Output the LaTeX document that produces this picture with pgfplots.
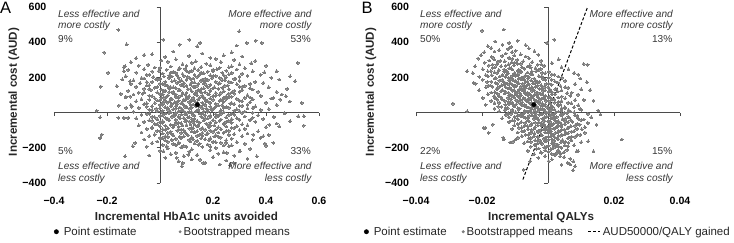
\documentclass[border=0pt]{standalone}
\usepackage{fontspec}
\setmainfont{Liberation Sans}
\usepackage{pgfplots}
\pgfplotsset{compat=1.18}
\definecolor{ptgray}{RGB}{124,124,124}
\definecolor{axgray}{RGB}{75,75,75}
\definecolor{txtgray}{RGB}{55,55,55}
\begin{document}
\begin{tikzpicture}
\useasboundingbox (0pt,0pt) rectangle (734pt,243pt);
\pgfplotsset{
 myax/.style={
  scale only axis, height=176pt,
  axis lines=middle, axis line style={axgray, line width=0.9pt, -},
  ymin=-400, ymax=600,
  ytick={-400,-200,200,400,600},
  yticklabels={−400,−200,200,400,600},
  tick style={axgray, line width=0.8pt},
  major tick length=3.5pt, tick align=outside,
  ticklabel style={font=\fontsize{10.6}{12}\selectfont\bfseries},
  xticklabel style={yshift=-77pt},
  clip=false,
  legend style={draw=none, fill=none, inner sep=0pt, legend columns=-1,
     font=\fontsize{11.5}{13}\selectfont, text=black!85},
 },
 ptest/.style={only marks, mark=*, mark size=2.2pt, black},
 boot/.style={only marks, mark=*, mark size=1.45pt, ptgray, mark options={draw=ptgray, fill=ptgray, line width=0pt}},
}
% ---------------- Panel A ----------------
\begin{axis}[myax, at={(54pt,60pt)}, anchor=south west, width=265pt,
  xmin=-0.4, xmax=0.6,
  xtick={-0.4,-0.2,0.2,0.4,0.6},
  xticklabels={−0.4,−0.2,0.2,0.4,0.6},
  yticklabel style={xshift=-106.6pt},
  xlabel={Incremental HbA1c units avoided},
  every axis x label/.style={at={(axis description cs:0.5,0)}, anchor=north, yshift=-26pt, font=\fontsize{11.6}{13}\selectfont\bfseries, text=black!85},
  ylabel={Incremental cost (AUD)},
  every axis y label/.style={at={(axis description cs:-0.151,0.517)}, rotate=90, anchor=center, font=\fontsize{11.6}{13}\selectfont\bfseries, text=black!85},
  legend style={at={(axis description cs:-0.0008,-0.277)}, anchor=west,
     /tikz/every even column/.append style={column sep=40pt}},
]
\addlegendimage{legend image code/.code={\fill[black] (0pt,0pt) circle (2.2pt); \path (5.2pt,0pt);}}
\addlegendentry{Point estimate}
\addlegendimage{legend image code/.code={\fill[ptgray] (0pt,0pt) circle (1.3pt);}}
\addlegendentry{Bootstrapped means}
\addplot[boot, forget plot] coordinates {
(0.05,347) (0.16,336) (0.27,342) (-0.03,331)
(-0.06,327) (0.02,316) (0.11,322) (0.19,311) (0.24,325) (0.31,319)
(-0.09,309) (0.005,296) (0.06,302) (0.135,291) (0.21,305) (0.28,299) (0.36,293)
(-0.11,286) (-0.045,272) (0.03,289) (0.085,275) (0.12,283) (0.175,278) (0.23,287) (0.30,274) (0.345,281)
(-0.08,267) (-0.02,256) (0.04,262) (0.075,251) (0.10,265) (0.155,259) (0.19,269) (0.225,254) (0.27,263) (0.32,252) (0.40,266)
(-0.12,243) (-0.06,247) (-0.005,236) (0.025,244) (0.05,231) (0.095,249) (0.12,237) (0.145,242) (0.18,233) (0.215,246) (0.25,238) (0.29,245) (0.35,234)
(-0.09,227) (-0.04,216) (0.01,222) (0.035,211) (0.06,225) (0.085,219) (0.11,229) (0.13,214) (0.165,223) (0.19,212) (0.235,226) (0.26,217) (0.31,221) (0.38,215)
(-0.13,207) (-0.07,196) (-0.025,202) (0.00,191) (0.045,205) (0.07,199) (0.09,209) (0.125,194) (0.14,203) (0.17,192) (0.20,206) (0.225,197) (0.25,201) (0.285,193) (0.33,208) (0.42,198)
(-0.10,184) (-0.05,173) (-0.015,189) (0.02,175) (0.055,183) (0.075,178) (0.10,187) (0.13,172) (0.155,181) (0.18,186) (0.21,176) (0.245,185) (0.27,171) (0.30,182) (0.36,174) (0.45,188)
(-0.11,163) (-0.075,167) (-0.04,156) (0.01,164) (0.03,151) (0.065,169) (0.08,157) (0.115,162) (0.14,153) (0.165,166) (0.19,158) (0.22,165) (0.255,154) (0.29,161) (0.32,152) (0.39,168)
(-0.09,147) (-0.06,136) (-0.02,142) (0.005,131) (0.04,145) (0.06,139) (0.09,149) (0.115,134) (0.13,143) (0.155,132) (0.18,146) (0.20,137) (0.235,141) (0.26,133) (0.30,148) (0.34,138) (0.41,144) (0.48,135)
(-0.12,124) (-0.08,113) (-0.035,129) (-0.01,115) (0.02,123) (0.05,118) (0.07,127) (0.10,112) (0.12,121) (0.145,126) (0.17,116) (0.19,125) (0.21,111) (0.24,122) (0.27,114) (0.31,128) (0.37,119) (0.44,117)
(-0.10,103) (-0.065,107) (-0.04,96) (0.01,104) (0.025,91) (0.05,109) (0.08,97) (0.095,102) (0.11,93) (0.135,106) (0.16,98) (0.18,105) (0.20,94) (0.225,101) (0.25,92) (0.28,108) (0.33,99) (0.38,95) (0.46,103)
(-0.13,87) (-0.07,76) (-0.02,82) (0.00,71) (0.015,85) (0.04,79) (0.06,89) (0.09,74) (0.105,83) (0.12,72) (0.15,86) (0.17,77) (0.19,81) (0.23,73) (0.26,88) (0.29,78) (0.32,84) (0.35,75) (0.42,80)
(-0.09,64) (-0.05,53) (-0.01,69) (0.01,55) (0.035,63) (0.055,58) (0.07,67) (0.085,52) (0.11,61) (0.13,66) (0.16,56) (0.18,65) (0.21,51) (0.24,62) (0.27,54) (0.30,68) (0.34,59) (0.40,57) (0.49,63)
(-0.11,43) (-0.06,47) (-0.03,36) (0.00,44) (0.02,31) (0.045,49) (0.06,37) (0.09,42) (0.10,33) (0.125,46) (0.15,38) (0.17,45) (0.19,34) (0.22,41) (0.25,32) (0.28,48) (0.31,39) (0.36,35) (0.44,43)
(-0.08,27) (-0.04,16) (-0.015,22) (0.01,11) (0.03,25) (0.05,19) (0.075,29) (0.085,14) (0.11,23) (0.14,12) (0.16,26) (0.18,17) (0.20,21) (0.23,13) (0.26,28) (0.29,18) (0.33,24) (0.38,15) (0.41,20)
(-0.10,4) (-0.05,-7) (-0.01,9) (0.02,-5) (0.04,3) (0.06,-2) (0.09,7) (0.10,-8) (0.12,1) (0.135,6) (0.15,-4) (0.18,5) (0.21,-9) (0.24,2) (0.27,-6) (0.30,8) (0.35,-1) (0.47,-3)
(-0.07,-13) (-0.03,-24) (0.00,-18) (0.02,-29) (0.05,-15) (0.07,-21) (0.08,-11) (0.11,-26) (0.13,-17) (0.16,-28) (0.17,-14) (0.19,-23) (0.22,-19) (0.25,-27) (0.28,-12) (0.32,-22) (0.37,-16) (0.43,-25)
(-0.09,-33) (-0.04,-44) (-0.01,-38) (0.01,-49) (0.03,-35) (0.06,-41) (0.09,-31) (0.10,-46) (0.12,-37) (0.14,-48) (0.17,-34) (0.20,-43) (0.23,-39) (0.26,-47) (0.29,-32) (0.34,-42) (0.39,-36)
(-0.06,-53) (-0.02,-64) (0.01,-58) (0.04,-69) (0.06,-55) (0.08,-61) (0.11,-51) (0.13,-66) (0.15,-57) (0.18,-68) (0.21,-54) (0.24,-63) (0.27,-59) (0.31,-67) (0.36,-52) (0.44,-62)
(-0.08,-73) (-0.03,-84) (0.00,-78) (0.03,-89) (0.05,-75) (0.07,-81) (0.10,-71) (0.12,-86) (0.14,-77) (0.16,-88) (0.19,-74) (0.22,-83) (0.25,-79) (0.28,-87) (0.33,-72) (0.40,-82)
(-0.05,-93) (-0.01,-104) (0.02,-98) (0.04,-109) (0.07,-95) (0.09,-101) (0.11,-91) (0.14,-106) (0.17,-97) (0.20,-108) (0.23,-94) (0.26,-103) (0.30,-99) (0.37,-107)
(-0.07,-113) (-0.02,-124) (0.01,-118) (0.05,-129) (0.08,-115) (0.10,-121) (0.13,-111) (0.15,-126) (0.18,-117) (0.21,-128) (0.24,-114) (0.28,-123) (0.33,-119) (0.41,-127)
(-0.04,-133) (0.00,-144) (0.03,-138) (0.06,-149) (0.09,-135) (0.12,-141) (0.16,-131) (0.19,-146) (0.22,-137) (0.27,-148) (0.31,-134) (0.38,-143)
(-0.06,-153) (-0.01,-164) (0.02,-158) (0.07,-169) (0.11,-155) (0.14,-161) (0.17,-151) (0.20,-166) (0.25,-157) (0.29,-168) (0.35,-154)
(-0.03,-173) (0.01,-184) (0.05,-178) (0.09,-189) (0.13,-175) (0.18,-181) (0.23,-171) (0.27,-186) (0.32,-177) (0.40,-188)
(-0.05,-193) (0.03,-204) (0.08,-198) (0.12,-209) (0.16,-195) (0.21,-201) (0.26,-191) (0.34,-206)
(0.00,-217) (0.06,-228) (0.11,-222) (0.19,-213) (0.24,-225) (0.30,-219)
(0.04,-236) (0.09,-247) (0.14,-241) (0.22,-233) (0.28,-245)
(0.02,-257) (0.12,-266) (0.20,-253) (0.33,-262)
(0.07,-276) (0.17,-285) (0.25,-272)
(-0.157,470) (-0.211,341) (-0.126,388) (-0.196,227) (-0.224,148) (-0.136,258) (-0.142,189) (-0.163,151) (-0.148,106) (-0.129,91) (-0.113,91) (-0.155,40) (-0.239,11) (-0.107,34) (-0.226,-27) (-0.22,-125) (-0.226,-144) (-0.132,-248) (-0.041,-244) (-0.103,-191) (-0.094,-172) (-0.157,-30) (-0.136,-30) (-0.120,-30) (-0.128,27) (-0.113,178) (-0.136,235) (-0.132,263)
(0.299,462) (0.111,415) (0.151,396) (0.141,377) (0.013,415) (0.075,386) (0.361,409) (0.384,396) (0.327,396) (0.289,381) (0.52,282) (0.44,235) (0.491,206) (0.51,178) (0.394,229) (0.535,55) (0.475,93) (0.428,84) (0.453,74) (0.543,-21) (0.522,-21) (0.543,-74) (0.491,-49) (0.45,-78) (0.413,-68) (0.39,-134) (0.352,-125) (0.428,-172) (0.396,-176) (0.365,-248) (0.302,-220) (0.252,-229) (0.277,-286) (0.264,-299) (0.226,-295) (0.151,-267) (0.163,-286) (0.086,-286) (0.082,-305) (0.063,-257) (0.107,-239) (0.013,-220) (0.025,-191)
(0.00,254) (0.07,246) (0.13,252) (0.20,243) (0.26,257)
(-0.03,233) (0.04,226) (0.10,237) (0.155,228) (0.20,234) (0.27,225)
(-0.05,214) (0.015,205) (0.065,212) (0.105,203) (0.15,216) (0.21,208) (0.24,213) (0.30,204)
(-0.06,194) (-0.01,186) (0.035,197) (0.08,183) (0.115,192) (0.16,188) (0.195,196) (0.235,184) (0.28,191)
(-0.03,174) (0.00,165) (0.045,177) (0.09,168) (0.12,173) (0.145,164) (0.17,178) (0.225,167) (0.26,175) (0.34,163)
(-0.05,154) (-0.01,146) (0.02,157) (0.05,143) (0.10,152) (0.125,148) (0.175,156) (0.205,144) (0.245,153) (0.31,147)
(-0.04,134) (0.015,125) (0.035,137) (0.075,128) (0.105,133) (0.14,124) (0.165,138) (0.19,127) (0.22,135) (0.28,123) (0.35,131)
(-0.06,114) (0.00,106) (0.035,117) (0.06,103) (0.085,112) (0.13,108) (0.155,116) (0.185,104) (0.23,113) (0.26,107) (0.30,118)
(-0.03,94) (0.005,85) (0.03,97) (0.07,88) (0.10,93) (0.125,84) (0.14,98) (0.165,87) (0.21,95) (0.24,83) (0.27,91) (0.34,86)
(-0.04,74) (0.02,66) (0.045,77) (0.065,63) (0.095,72) (0.12,68) (0.145,76) (0.175,64) (0.20,73) (0.225,67) (0.25,78) (0.31,65)
(-0.02,54) (0.01,45) (0.03,57) (0.065,48) (0.08,53) (0.115,44) (0.14,58) (0.165,47) (0.19,55) (0.235,43) (0.265,51) (0.33,46)
(-0.05,34) (0.00,26) (0.04,37) (0.06,23) (0.095,32) (0.12,28) (0.135,36) (0.175,24) (0.21,33) (0.24,27) (0.30,38) (0.35,25)
(-0.03,14) (0.005,5) (0.03,17) (0.07,8) (0.08,13) (0.11,4) (0.145,18) (0.165,7) (0.195,15) (0.225,3) (0.28,11) (0.32,6)
(-0.04,-6) (0.01,-14) (0.035,-3) (0.055,-17) (0.095,-8) (0.125,-12) (0.16,-4) (0.19,-16) (0.23,-7) (0.26,-13) (0.31,-2)
(-0.02,-26) (0.025,-35) (0.045,-23) (0.075,-32) (0.105,-27) (0.13,-36) (0.155,-22) (0.18,-33) (0.21,-25) (0.27,-37) (0.35,-29)
(-0.03,-46) (0.00,-54) (0.035,-43) (0.07,-57) (0.095,-48) (0.125,-52) (0.165,-44) (0.19,-56) (0.225,-47) (0.25,-53) (0.30,-42)
(-0.01,-66) (0.02,-75) (0.06,-63) (0.085,-72) (0.115,-67) (0.145,-76) (0.175,-62) (0.205,-73) (0.24,-65) (0.29,-77)
(-0.03,-86) (0.01,-94) (0.05,-83) (0.08,-97) (0.125,-88) (0.155,-92) (0.185,-84) (0.21,-96) (0.27,-87) (0.32,-93)
(0.00,-106) (0.03,-115) (0.065,-103) (0.095,-112) (0.12,-107) (0.16,-116) (0.19,-102) (0.22,-113) (0.25,-105)
(-0.02,-126) (0.02,-134) (0.045,-123) (0.075,-137) (0.105,-128) (0.14,-132) (0.175,-124) (0.205,-136) (0.26,-127)
(0.01,-146) (0.045,-155) (0.08,-143) (0.125,-152) (0.155,-147) (0.185,-156) (0.23,-142)
(0.03,-166) (0.07,-174) (0.115,-163) (0.15,-177) (0.21,-168) (0.25,-172)
(0.06,-186) (0.10,-195) (0.145,-183) (0.19,-192) (0.24,-187)
};
\addplot[ptest, forget plot] coordinates {(0.141,45)};
\end{axis}
% ---------------- Panel B ----------------
\begin{axis}[myax, at={(416pt,60pt)}, anchor=south west, width=264pt,
  xmin=-0.04, xmax=0.04,
  xtick={-0.04,-0.02,0.02,0.04},
  xticklabels={−0.04,−0.02,0.02,0.04},
  yticklabel style={xshift=-132pt},
  xlabel={Incremental QALYs},
  every axis x label/.style={at={(axis description cs:0.474,0)}, anchor=north, yshift=-26pt, font=\fontsize{11.6}{13}\selectfont\bfseries, text=black!85},
  ylabel={Incremental cost (AUD)},
  every axis y label/.style={at={(axis description cs:-0.1705,0.517)}, rotate=90, anchor=center, font=\fontsize{11.6}{13}\selectfont\bfseries, text=black!85},
  legend style={at={(axis description cs:-0.1977,-0.277)}, anchor=west,
     /tikz/every even column/.append style={column sep=13pt}},
]
\addlegendimage{legend image code/.code={\fill[black] (0pt,0pt) circle (2.2pt); \path (5.2pt,0pt);}}
\addlegendentry{Point estimate}
\addlegendimage{legend image code/.code={\fill[ptgray] (0pt,0pt) circle (1.3pt);}}
\addlegendentry{Bootstrapped means}
\addlegendimage{legend image code/.code={\draw[black, line width=1pt, dash pattern=on 3pt off 2pt] (0pt,0pt) -- (12pt,0pt);}}
\addlegendentry{AUD50000/QALY gained}
\addplot[boot, forget plot] coordinates {
(-0.016,404) (-0.0118,396) (-0.0092,409)
(-0.0182,377) (-0.0138,386) (-0.0112,373) (-0.0068,384)
(-0.0172,366) (-0.0148,355) (-0.0121,362) (-0.0098,351) (-0.0058,365)
(-0.0193,343) (-0.0162,347) (-0.0128,336) (-0.0109,344) (-0.0083,331) (-0.0041,349)
(-0.0203,327) (-0.0171,316) (-0.0139,322) (-0.0118,311) (-0.0102,325) (-0.0068,319) (-0.0029,329)
(-0.0212,307) (-0.0178,296) (-0.0163,302) (-0.0131,291) (-0.0108,305) (-0.0093,299) (-0.0058,309) (-0.0021,294) (0.0032,303)
(-0.0192,284) (-0.0168,273) (-0.0152,289) (-0.0119,275) (-0.0101,283) (-0.0082,278) (-0.0048,287) (-0.0031,272) (0.0012,281) (0.0108,276)
(-0.0221,263) (-0.0179,267) (-0.0161,256) (-0.0142,264) (-0.0118,251) (-0.0103,269) (-0.0079,257) (-0.0062,262) (-0.0038,253) (-0.0012,266) (0.0041,258)
(-0.0198,247) (-0.0173,236) (-0.0149,242) (-0.0132,231) (-0.0108,245) (-0.0091,239) (-0.0072,249) (-0.0049,234) (-0.0028,243) (0.0003,232) (0.0062,246)
(-0.0228,224) (-0.0189,213) (-0.0162,229) (-0.0138,215) (-0.0121,223) (-0.0099,218) (-0.0088,227) (-0.0068,212) (-0.0052,221) (-0.0018,226) (0.0012,216) (0.0079,225)
(-0.0208,203) (-0.0182,207) (-0.0158,196) (-0.0129,204) (-0.0112,191) (-0.0098,209) (-0.0081,197) (-0.0058,202) (-0.0042,193) (-0.0019,206) (0.0002,198) (0.0031,205) (0.0098,194)
(-0.0198,187) (-0.0172,176) (-0.0148,182) (-0.0131,171) (-0.0118,185) (-0.0099,179) (-0.0082,189) (-0.0068,174) (-0.0051,183) (-0.0032,172) (-0.0008,186) (0.0021,177) (0.0052,181) (0.0118,173)
(-0.0219,164) (-0.0181,153) (-0.0159,169) (-0.0141,155) (-0.0122,163) (-0.0108,158) (-0.0089,167) (-0.0071,152) (-0.0058,161) (-0.0039,166) (-0.0021,156) (0.0002,165) (0.0038,151) (0.0082,162)
(-0.0188,143) (-0.0169,147) (-0.0152,136) (-0.0128,144) (-0.0111,131) (-0.0101,149) (-0.0079,137) (-0.0069,142) (-0.0052,133) (-0.0038,146) (-0.0019,138) (0.0001,145) (0.0022,134) (0.0061,141) (0.0101,132)
(-0.0209,127) (-0.0161,116) (-0.0142,122) (-0.0119,111) (-0.0108,125) (-0.0091,119) (-0.0079,129) (-0.0062,114) (-0.0048,123) (-0.0031,112) (-0.0009,126) (0.0012,117) (0.0029,121) (0.0072,113) (0.0128,128)
(-0.0182,104) (-0.0148,93) (-0.0131,109) (-0.0109,95) (-0.0098,103) (-0.0082,98) (-0.0068,107) (-0.0049,92) (-0.0041,101) (-0.0022,106) (-0.0008,96) (0.0011,105) (0.0042,91) (0.0091,102)
(-0.0198,83) (-0.0161,87) (-0.0139,76) (-0.0121,84) (-0.0098,71) (-0.0088,89) (-0.0069,77) (-0.0058,82) (-0.0041,73) (-0.0029,86) (-0.0011,78) (0.0002,85) (0.0019,74) (0.0052,81) (0.0109,72)
(-0.0172,67) (-0.0148,56) (-0.0119,62) (-0.0108,51) (-0.0091,65) (-0.0078,59) (-0.0062,69) (-0.0049,54) (-0.0032,63) (-0.0018,52) (0.0002,66) (0.0021,57) (0.0032,61) (0.0071,53) (0.0138,68)
(-0.0189,44) (-0.0141,33) (-0.0118,49) (-0.0102,35) (-0.0079,43) (-0.0069,38) (-0.0052,47) (-0.0038,32) (-0.0021,41) (-0.0009,46) (0.0012,36) (0.0029,45) (0.0051,31) (0.0092,42)
(-0.0162,23) (-0.0128,27) (-0.0109,16) (-0.0091,24) (-0.0071,11) (-0.0058,29) (-0.0042,17) (-0.0029,22) (-0.0012,13) (0.0001,26) (0.0019,18) (0.0041,25) (0.0062,14) (0.0098,21) (0.0152,12)
(-0.0148,7) (-0.0121,-4) (-0.0098,2) (-0.0082,-9) (-0.0061,5) (-0.0049,-1) (-0.0031,9) (-0.0018,-6) (0.0002,3) (0.0011,-8) (0.0032,6) (0.0049,-3) (0.0079,1) (0.0121,-7)
(-0.0128,-13) (-0.0101,-24) (-0.0082,-18) (-0.0068,-29) (-0.0049,-15) (-0.0041,-21) (-0.0019,-11) (-0.0011,-26) (0.0012,-17) (0.0021,-28) (0.0042,-14) (0.0061,-23) (0.0088,-19) (0.0131,-27)
(-0.0139,-33) (-0.0108,-44) (-0.0091,-38) (-0.0058,-49) (-0.0042,-35) (-0.0029,-41) (-0.0011,-31) (0.0002,-46) (0.0019,-37) (0.0031,-48) (0.0052,-34) (0.0069,-43) (0.0109,-39)
(-0.0118,-53) (-0.0092,-64) (-0.0069,-58) (-0.0051,-69) (-0.0028,-55) (-0.0019,-61) (0.0001,-51) (0.0012,-66) (0.0028,-57) (0.0042,-68) (0.0061,-54) (0.0089,-63) (0.0121,-59)
(-0.0102,-73) (-0.0079,-84) (-0.0061,-78) (-0.0041,-89) (-0.0019,-75) (-0.0008,-81) (0.0011,-71) (0.0022,-86) (0.0041,-77) (0.0059,-88) (0.0082,-74) (0.0112,-83)
(-0.0108,-93) (-0.0072,-104) (-0.0049,-98) (-0.0031,-109) (-0.0012,-95) (0.0001,-101) (0.0019,-91) (0.0032,-106) (0.0049,-97) (0.0071,-108) (0.0102,-94)
(-0.0092,-113) (-0.0058,-124) (-0.0041,-118) (-0.0019,-129) (0.0002,-115) (0.0011,-121) (0.0029,-111) (0.0042,-126) (0.0061,-117) (0.0088,-128) (0.0112,-114)
(-0.0079,-133) (-0.0052,-144) (-0.0031,-138) (-0.0012,-149) (0.0009,-135) (0.0021,-141) (0.0039,-131) (0.0061,-146) (0.0082,-137)
(-0.0098,-153) (-0.0062,-164) (-0.0039,-158) (-0.0021,-169) (0.0001,-155) (0.0019,-161) (0.0031,-151) (0.0052,-166) (0.0071,-157) (0.0101,-168)
(-0.0072,-173) (-0.0041,-184) (-0.0019,-178) (0.0002,-189) (0.0012,-175) (0.0029,-181) (0.0051,-171) (0.0079,-186)
(-0.0052,-193) (-0.0028,-204) (-0.0011,-198) (0.0009,-209) (0.0022,-195) (0.0041,-201) (0.0061,-191)
(-0.0061,-217) (-0.0019,-228) (0.0002,-222) (0.0031,-213) (0.0049,-225) (0.0091,-219)
(-0.0042,-236) (-0.0009,-247) (0.0021,-241) (0.0039,-233)
(-0.0029,-257) (0.0012,-266) (0.0049,-253) (0.0068,-262)
(0.0002,-276) (0.0059,-285)
(0.0041,-296) (0.0082,-305)
(-0.020,466) (-0.0134,472) (-0.0003,396) (0.0019,415) (-0.0288,51) (-0.0245,235) (-0.0245,7) (-0.0195,-87) (-0.018,-115) (0.0224,-153) (0.0159,-11) (0.0138,-220) (0.006,-286) (0.0076,-328) (0.0037,-248) (0.0027,-229) (-0.0054,-277) (-0.0074,-324) (-0.0134,-153) (-0.016,84) (-0.0225,169) (0.012,273) (0.0092,216)
(-0.019,-85) (-0.0167,-68) (-0.0136,-142) (-0.0115,-170) (-0.0106,-165) (-0.0091,-142) (0.0147,-68) (0.0122,-163) (0.0087,-220) (0.0077,-277) (0.0067,-295)
(-0.0145,294) (-0.011,286) (-0.0075,292)
(-0.0155,273) (-0.0128,266) (-0.0092,277) (-0.0055,268) (-0.002,274)
(-0.0168,254) (-0.0133,245) (-0.0112,252) (-0.0088,243) (-0.0052,256) (-0.0022,248)
(-0.0182,234) (-0.0154,226) (-0.0126,237) (-0.0102,223) (-0.0081,232) (-0.0062,228) (-0.0035,236) (-0.0008,224)
(-0.0171,213) (-0.0146,205) (-0.0124,217) (-0.0108,208) (-0.0091,212) (-0.0072,204) (-0.0047,218) (-0.0028,207) (0.0019,215)
(-0.0162,194) (-0.0139,186) (-0.0119,197) (-0.0104,183) (-0.0089,192) (-0.0073,188) (-0.0061,196) (-0.0038,184) (-0.0015,193) (0.0011,187) (0.0042,198)
(-0.0184,174) (-0.0153,165) (-0.0135,177) (-0.0114,168) (-0.0094,173) (-0.0076,164) (-0.0062,178) (-0.0045,167) (-0.0026,175) (-0.0005,163) (0.0029,171)
(-0.0175,154) (-0.0148,146) (-0.0132,157) (-0.0116,143) (-0.0097,152) (-0.0082,148) (-0.0063,156) (-0.0049,144) (-0.0031,153) (-0.0012,147) (0.0011,158) (0.0052,145)
(-0.0156,134) (-0.0137,126) (-0.0121,137) (-0.0103,128) (-0.0087,133) (-0.0072,124) (-0.0057,138) (-0.0043,127) (-0.0026,135) (-0.0014,123) (0.0006,131) (0.0041,126)
(-0.0172,114) (-0.0152,106) (-0.0128,117) (-0.0113,103) (-0.0097,112) (-0.0084,108) (-0.0071,116) (-0.0055,104) (-0.0036,113) (-0.0018,107) (0.0002,118) (0.0021,105) (0.0058,111)
(-0.0163,94) (-0.0141,85) (-0.0118,97) (-0.0103,88) (-0.0091,93) (-0.0074,84) (-0.0061,98) (-0.0047,87) (-0.0032,95) (-0.0015,83) (0.0004,91) (0.0031,86) (0.0068,96)
(-0.0154,74) (-0.0131,66) (-0.0112,77) (-0.0093,63) (-0.0083,72) (-0.0066,68) (-0.0053,76) (-0.0036,64) (-0.0024,73) (-0.0006,67) (0.0012,78) (0.0041,65) (0.0082,71)
(-0.0162,54) (-0.0129,45) (-0.0109,57) (-0.0096,48) (-0.0084,53) (-0.0071,44) (-0.0058,58) (-0.0042,47) (-0.0027,55) (-0.0013,43) (0.0007,51) (0.0038,46) (0.0061,56)
(-0.0151,34) (-0.0122,26) (-0.0102,37) (-0.0086,23) (-0.0064,32) (-0.0049,28) (-0.0034,36) (-0.0017,24) (-0.0003,33) (0.0011,27) (0.0032,38) (0.0052,25) (0.0079,31)
(-0.0131,14) (-0.0108,5) (-0.0089,17) (-0.0071,8) (-0.0054,13) (-0.0039,4) (-0.0023,18) (-0.0008,7) (0.0009,15) (0.0024,3) (0.0041,11) (0.0068,6) (0.0101,16)
(-0.0112,-6) (-0.0091,-14) (-0.0074,-3) (-0.0057,-17) (-0.0037,-8) (-0.0025,-12) (-0.0006,-4) (0.0006,-16) (0.0019,-7) (0.0038,-13) (0.0058,-2) (0.0082,-15)
(-0.0119,-26) (-0.0093,-35) (-0.0075,-23) (-0.0061,-32) (-0.0034,-27) (-0.0017,-36) (-0.0004,-22) (0.0009,-33) (0.0026,-25) (0.0044,-37) (0.0063,-28) (0.0092,-34)
(-0.0102,-46) (-0.0081,-54) (-0.0062,-43) (-0.0039,-57) (-0.0011,-48) (0.0006,-52) (0.0021,-44) (0.0036,-56) (0.0051,-47) (0.0074,-53) (0.0101,-42)
(-0.0091,-66) (-0.0071,-75) (-0.0049,-63) (-0.0031,-72) (-0.0013,-67) (0.0004,-76) (0.0017,-62) (0.0031,-73) (0.0051,-65) (0.0069,-77) (0.0096,-68)
(-0.0088,-86) (-0.0061,-94) (-0.0039,-83) (-0.0021,-97) (-0.0004,-88) (0.0009,-92) (0.0027,-84) (0.0041,-96) (0.0062,-87) (0.0088,-93)
(-0.0079,-106) (-0.0052,-115) (-0.0029,-103) (-0.0008,-112) (0.0008,-107) (0.0022,-116) (0.0039,-102) (0.0054,-113) (0.0079,-105)
(-0.0068,-126) (-0.0042,-134) (-0.0022,-123) (0.0001,-137) (0.0016,-128) (0.0032,-132) (0.0051,-124) (0.0071,-136) (0.0098,-127)
(-0.0058,-146) (-0.0028,-155) (-0.0009,-143) (0.0012,-152) (0.0028,-147) (0.0044,-156) (0.0068,-142)
(-0.0052,-166) (-0.0031,-174) (-0.0008,-163) (0.0021,-177) (0.0039,-168) (0.0062,-172)
(-0.0038,-186) (-0.0006,-195) (0.0016,-183) (0.0032,-192) (0.0051,-187)
(-0.0035,-206) (-0.0008,-214) (0.0014,-203) (0.0058,-212)
(-0.0022,-226) (0.0011,-235) (0.0032,-223)
};
\addplot[forget plot, black, line width=1pt, dash pattern=on 3pt off 2pt] coordinates {(-0.0076,-380) (0.012,600)};
\addplot[ptest, forget plot] coordinates {(-0.0043,45)};
\end{axis}
% ---------------- Text ----------------
\begin{scope}[x=1pt, y=1pt, every node/.style={inner sep=0pt, text=txtgray, font=\fontsize{10.1}{12}\selectfont}]
\node[anchor=base west] at (0,229) {\fontsize{16.5}{18}\selectfont\color{black}A};
\node[anchor=base west] at (361.5,229) {\fontsize{16.5}{18}\selectfont\color{black}B};
% panel A
\node[anchor=base west] at (58,225.3) {\itshape Less effective and};
\node[anchor=base west] at (58,214.3) {\itshape more costly};
\node[anchor=base west] at (58,200.3) {9\%};
\node[anchor=base east] at (311.7,225.3) {\itshape More effective and};
\node[anchor=base east] at (311.7,214.3) {\itshape more costly};
\node[anchor=base east] at (311,200.3) {53\%};
\node[anchor=base west] at (58,88) {5\%};
\node[anchor=base west] at (58,73.5) {\itshape Less effective and};
\node[anchor=base west] at (58,61.5) {\itshape less costly};
\node[anchor=base east] at (311,88) {33\%};
\node[anchor=base east] at (311.7,73.5) {\itshape More effective and};
\node[anchor=base east] at (311.7,61.5) {\itshape less costly};
% panel B
\node[anchor=base west] at (420,225.3) {\itshape Less effective and};
\node[anchor=base west] at (420,214.3) {\itshape more costly};
\node[anchor=base west] at (420,200.3) {50\%};
\node[anchor=base east] at (673,225.3) {\itshape More effective and};
\node[anchor=base east] at (673,214.3) {\itshape more costly};
\node[anchor=base east] at (672.5,200.3) {13\%};
\node[anchor=base west] at (420,88) {22\%};
\node[anchor=base west] at (420,73.5) {\itshape Less effective and};
\node[anchor=base west] at (420,61.5) {\itshape less costly};
\node[anchor=base east] at (672.5,88) {15\%};
\node[anchor=base east] at (673,73.5) {\itshape More effective and};
\node[anchor=base east] at (673,61.5) {\itshape less costly};
\end{scope}
\end{tikzpicture}
\end{document}
